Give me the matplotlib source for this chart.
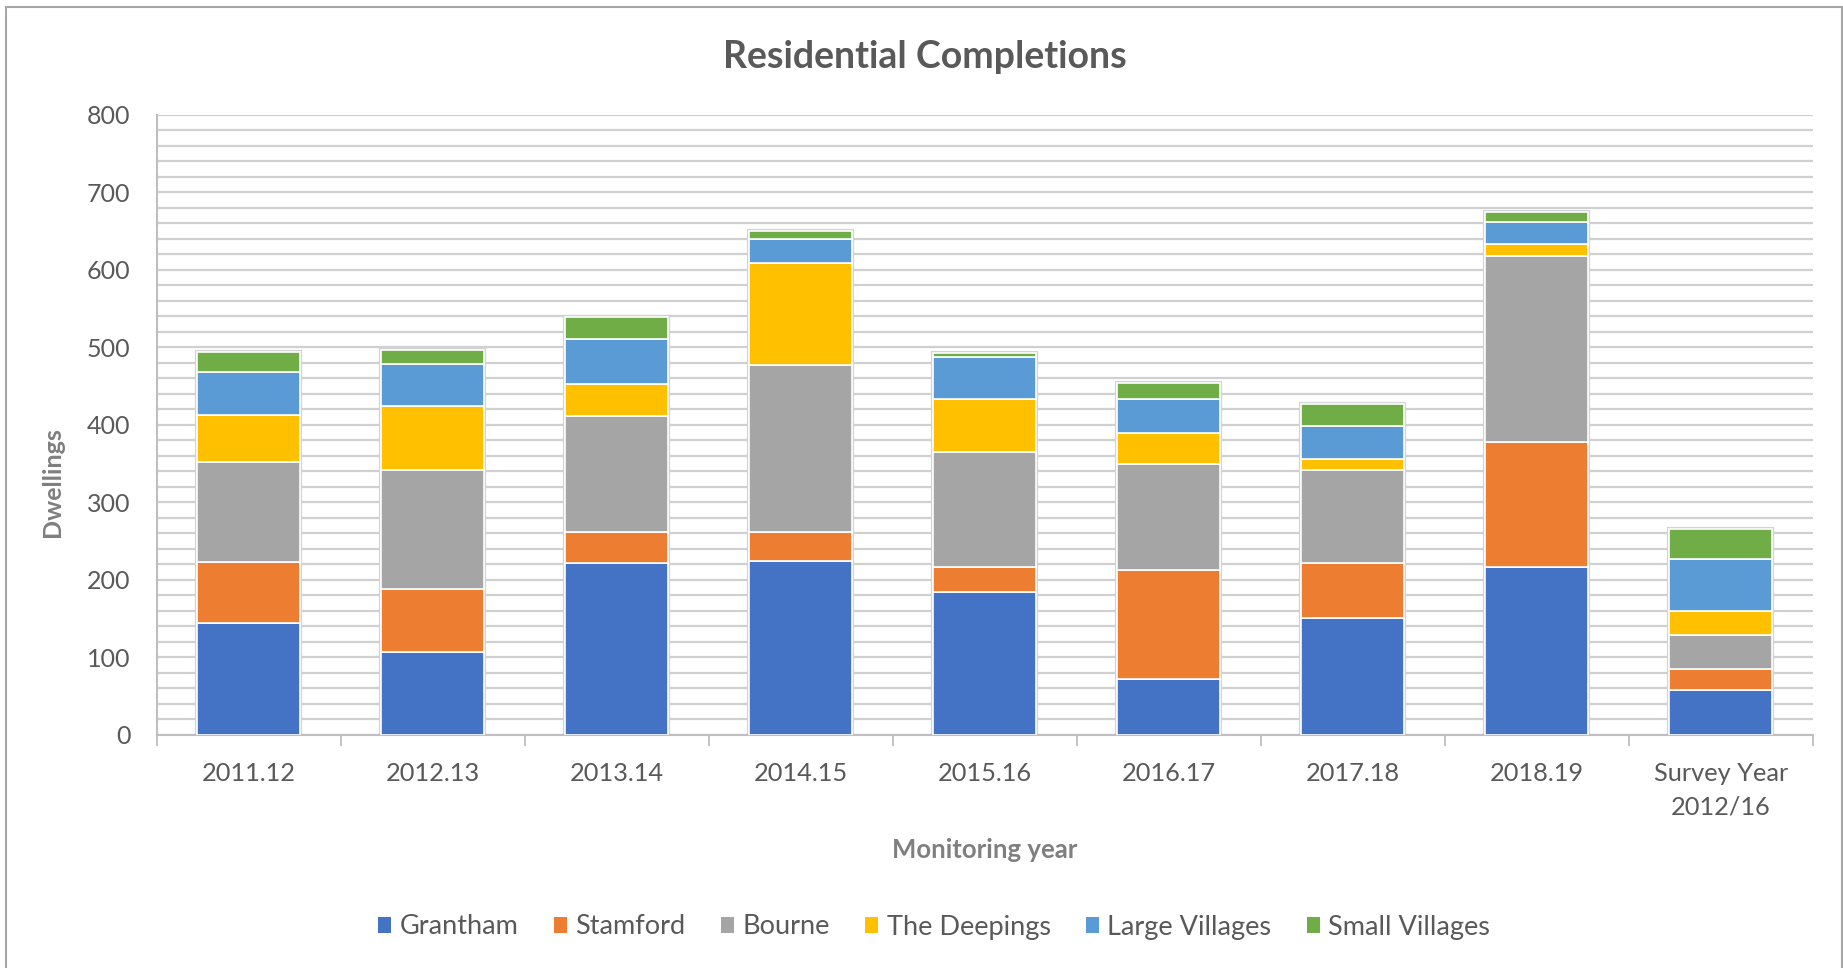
import matplotlib
matplotlib.use("Agg")
import matplotlib.pyplot as plt
from matplotlib.patches import Rectangle
from matplotlib.ticker import MultipleLocator, FixedLocator
import numpy as np

plt.rcParams['font.family'] = ['Lato', 'DejaVu Sans']

# Monitoring years and completions by settlement
years = ["2011.12", "2012.13", "2013.14", "2014.15", "2015.16",
         "2016.17", "2017.18", "2018.19", "Survey Year\n2012/16"]
grantham = [144, 106, 221, 224, 184, 72, 150, 216, 58]
stamford = [79, 82, 41, 38, 32, 141, 71, 162, 27]
bourne = [129, 154, 149, 215, 149, 136, 121, 240, 44]
deepings = [61, 82, 42, 132, 68, 40, 14, 15, 30]
large_villages = [55, 55, 58, 31, 55, 44, 42, 29, 67]
small_villages = [26, 17, 28, 10, 5, 21, 29, 13, 40]

series_names = ["Grantham", "Stamford", "Bourne", "The Deepings",
                "Large Villages", "Small Villages"]
series = [grantham, stamford, bourne, deepings, large_villages, small_villages]
colors = ["#4472C4", "#ED7D31", "#A5A5A5", "#FFC000", "#5B9BD5", "#70AD47"]

W, H = 1843, 968
fig = plt.figure(figsize=(W / 100, H / 100), dpi=100)
fig.patch.set_facecolor("white")

# chart frame
fig.patches.append(Rectangle((6 / W, -0.01), (1842 - 6) / W, 1.01 - 7 / H,
                             transform=fig.transFigure, fill=False,
                             edgecolor="#a6a6a6", linewidth=1.5))

ax = fig.add_axes([156.7 / W, 1 - 734.5 / H, (1812.7 - 156.7) / W,
                   (734.5 - 115) / H])

x = np.arange(len(years))
width = 0.56
bottom = np.zeros(len(years))
totals = np.sum(np.array(series), axis=0)

# soft outline behind each stack
ax.bar(x, totals, width, color="none", edgecolor="#d4d4d4",
       linewidth=3.0, zorder=2)
for name, vals, col in zip(series_names, series, colors):
    ax.bar(x, vals, width, bottom=bottom, color=col, label=name,
           edgecolor="white", linewidth=1.2, zorder=3)
    bottom += np.array(vals)

ax.set_ylim(0, 800)
ax.set_xlim(-0.5, len(years) - 0.5)
ax.yaxis.set_major_locator(MultipleLocator(100))
ax.yaxis.set_minor_locator(MultipleLocator(20))
ax.grid(axis="y", which="both", color="#d0d0d0", linewidth=1.6, zorder=0)
ax.set_axisbelow(True)

for side in ["top", "right"]:
    ax.spines[side].set_visible(False)
for side in ["left", "bottom"]:
    ax.spines[side].set_color("#bfbfbf")
    ax.spines[side].set_linewidth(1.5)

ax.set_xticks(x)
ax.set_xticklabels(years, linespacing=1.55)
ax.xaxis.set_minor_locator(FixedLocator(np.arange(-0.5, len(years), 1.0)))
ax.tick_params(axis="x", which="major", length=0, pad=20,
               labelsize=18.3, labelcolor="#595959")
ax.tick_params(axis="x", which="minor", length=8, width=1.3, color="#bfbfbf",
               direction="out")
ax.tick_params(axis="y", which="both", length=0, pad=19,
               labelsize=18, labelcolor="#595959")

fig.text(925 / W, 1 - 56.5 / H, "Residential Completions", ha="center",
         va="center", fontsize=27, fontweight="bold", color="#595959")
fig.text(53 / W, 1 - 482 / H, "Dwellings", ha="center", va="center",
         rotation=90, fontsize=18, fontweight="bold", color="#7f7f7f")
fig.text(985 / W, 1 - 850 / H, "Monitoring year", ha="center", va="center",
         fontsize=18.5, fontweight="bold", color="#7f7f7f")

handles, labels = ax.get_legend_handles_labels()
leg = fig.legend(handles, labels, loc="center", ncol=6,
                 bbox_to_anchor=(934 / W, 1 - 927 / H), frameon=False,
                 fontsize=19.5, handlelength=0.5, handleheight=0.5,
                 handletextpad=0.3, columnspacing=1.3,
                 labelcolor="#595959")
for h in leg.legend_handles:
    h.set_edgecolor("none")

fig.savefig("out.png", dpi=100, facecolor="white")
